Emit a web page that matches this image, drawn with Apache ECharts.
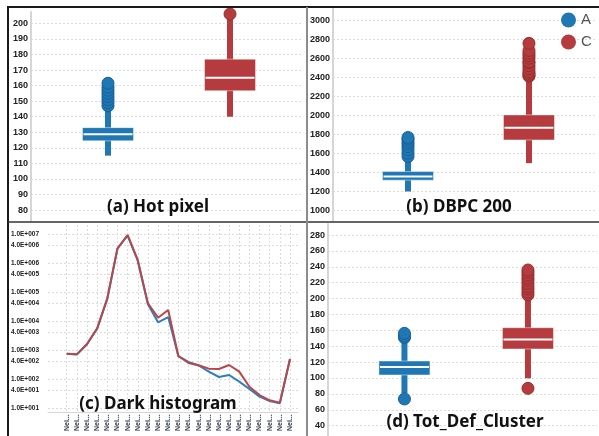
<!DOCTYPE html>
<html>
<head>
<meta charset="utf-8">
<script src="https://cdn.jsdelivr.net/npm/echarts@6/dist/echarts.min.js"></script>
<style>
  html, body { margin: 0; padding: 0; background: #fff; }
  #main { width: 599px; height: 436px; }
</style>
</head>
<body>
<div id="main"></div>
<script>
const groups = ["A", "C"];
const groupColors = ["#1f77b4", "#b53b3e"];
const groupBorders = ["#17609a", "#962f31"];

// box stats: [low whisker, q1, median, q3, high whisker]
const hotA = [115, 124.5, 128.8, 133, 145];
const hotC = [140, 156.7, 165, 177, 205];
const hotOutA = [147, 149, 151, 153, 155, 157, 159, 161.5];
const hotOutC = [206];
const hotTicks = [80, 90, 100, 110, 120, 130, 140, 150, 160, 170, 180, 190, 200];

const dbpcA = [1200, 1319, 1357, 1409, 1550];
const dbpcC = [1497, 1741, 1870, 2004, 2400];
const dbpcOutA = [1567, 1602, 1640, 1671, 1700, 1724, 1750, 1766];
const dbpcOutC = [2410, 2423, 2440, 2458, 2490, 2520, 2550, 2563, 2598, 2625, 2650, 2680, 2755];
const dbpcTicks = [1000, 1200, 1400, 1600, 1800, 2000, 2200, 2400, 2600, 2800, 3000];

const defA = [80.7, 103.8, 114, 121.4, 147];
const defC = [99.6, 136.5, 148.6, 163.3, 200];
const defOutA = [73.6, 150.8, 153, 156.2];
const defOutC = [87, 204.5, 208, 212, 215, 219, 223, 226, 229.6, 233, 236];
const defTicks = [40, 60, 80, 100, 120, 140, 160, 180, 200, 220, 240, 260, 280];

const histBins = ["Nei...", "Nei...", "Nei...", "Nei...", "Nei...", "Nei...", "Nei...", "Nei...",
  "Nei...", "Nei...", "Nei...", "Nei...", "Nei...", "Nei...", "Nei...", "Nei...", "Nei...",
  "Nei...", "Nei...", "Nei...", "Nei...", "Nei...", "Nei..."];
const histA = [745, 700, 1580, 5400, 58000, 3.1e6, 9.0e6, 1.2e6, 38000, 9000, 13700, 615,
  386, 292, 179, 117, 137, 81, 45, 24.6, 17.4, 14.5, 490];
const histC = [748, 708, 1610, 5580, 60500, 3.2e6, 9.2e6, 1.27e6, 40700, 13000, 23900, 621,
  356, 296, 227, 221, 304, 179, 54, 28, 18.4, 15.3, 490];
const histTicks = [10, 40, 100, 400, 1e3, 4e3, 1e4, 4e4, 1e5, 4e5, 1e6, 4e6, 1e7];

const chart = echarts.init(document.getElementById("main"));

const gridLine = { show: true, lineStyle: { color: "#dcdcdc", type: [2, 2], width: 1 } };
const tickFont = { fontSize: 9, fontWeight: "bold", color: "#222", fontFamily: "Liberation Sans" };

function sci(v) {
  const e = Math.floor(Math.log10(v) + 1e-9);
  const m = v / Math.pow(10, e);
  return m.toFixed(1) + "E+" + String(e).padStart(3, "0");
}

function renderBox(params, api) {
  const x = api.value(0);
  const lo = api.coord([x, api.value(1)]);
  const q1 = api.coord([x, api.value(2)]);
  const md = api.coord([x, api.value(3)]);
  const q3 = api.coord([x, api.value(4)]);
  const hi = api.coord([x, api.value(5)]);
  const color = api.visual("color");
  const bw = 51, ww = 6;
  return {
    type: "group",
    children: [
      { type: "rect", shape: { x: lo[0] - ww / 2, y: hi[1], width: ww, height: lo[1] - hi[1] }, style: { fill: color } },
      { type: "rect", shape: { x: q3[0] - bw / 2, y: q3[1], width: bw, height: q1[1] - q3[1] },
        style: { fill: color, stroke: "rgba(255,255,255,0.45)", lineWidth: 1 } },
      { type: "line", shape: { x1: md[0] - bw / 2 + 1, y1: md[1], x2: md[0] + bw / 2 - 1, y2: md[1] },
        style: { stroke: "#fff", lineWidth: 2 } },
    ],
  };
}

function boxSeries(axisIdx, stats, outliers) {
  const out = [];
  stats.forEach((s, i) => {
    out.push({
      name: groups[i],
      type: "custom",
      xAxisIndex: axisIdx,
      yAxisIndex: axisIdx,
      renderItem: renderBox,
      itemStyle: { color: groupColors[i] },
      encode: { x: 0, y: [1, 2, 3, 4, 5] },
      data: [[i + 1].concat(s)],
      z: 2,
    });
  });
  outliers.forEach((o, i) => {
    out.push({
      name: groups[i],
      type: "scatter",
      xAxisIndex: axisIdx,
      yAxisIndex: axisIdx,
      symbolSize: 12,
      itemStyle: { color: groupColors[i], borderColor: groupBorders[i], borderWidth: 1, opacity: 1 },
      data: o.map((v) => [i + 1, v]),
      z: 3,
    });
  });
  return out;
}

function valueY(grid, min, max, ticks) {
  return {
    type: "value", gridIndex: grid, min: min, max: max,
    axisLine: { show: true, lineStyle: { color: "#d6d6d6", width: 2 } },
    axisTick: { show: false, customValues: ticks },
    axisLabel: Object.assign({ customValues: ticks, margin: 3, formatter: (v) => String(v) }, tickFont),
    splitLine: gridLine,
  };
}

function hiddenX(grid, min, max) {
  return { type: "value", gridIndex: grid, min: min, max: max, show: false, splitLine: { show: false } };
}

function titleText(text, x, y) {
  return {
    type: "text", x: x, y: y, z: 10,
    style: { text: text, align: "center", verticalAlign: "middle",
      font: "bold 17px 'Noto Sans'", fill: "#111" },
  };
}

function rule(x1, y1, x2, y2, color, w) {
  return { type: "line", z: 20, shape: { x1, y1, x2, y2 }, style: { stroke: color, lineWidth: w } };
}

const option = {
  animation: false,
  backgroundColor: "#fff",
  legend: {
    data: groups,
    orient: "vertical",
    left: 561,
    top: 12.5,
    padding: 0,
    icon: "circle",
    itemWidth: 15,
    itemHeight: 15,
    itemGap: 7,
    textStyle: { fontSize: 15, color: "#555", fontFamily: "Liberation Sans" },
  },
  grid: [
    { left: 31, top: 12, right: 296, bottom: 215 },
    { left: 333, top: 8.6, right: 3, bottom: 215 },
    { left: 66.7, top: 225, right: 309, bottom: 23.7 },
    { left: 48, top: 225, right: 301, bottom: 23.7 },
    { left: 328, top: 223.9, right: 2, bottom: 0 },
  ],
  xAxis: [
    hiddenX(0, 0.369, 2.598),
    hiddenX(1, 0.38, 2.554),
    {
      type: "category", gridIndex: 2, data: histBins, boundaryGap: false,
      axisLine: { show: false },
      axisTick: { show: false },
      axisLabel: { interval: 0, rotate: 90, fontSize: 7, fontWeight: "bold", color: "#2a3344",
        fontFamily: "Liberation Sans", margin: 2 },
      splitLine: gridLine,
    },
    {
      type: "value", gridIndex: 3, min: 0, max: 1,
      axisLine: { show: true, lineStyle: { color: "#d6d6d6", width: 1 } },
      axisTick: { show: false }, axisLabel: { show: false }, splitLine: { show: false },
    },
    hiddenX(4, 0.381, 2.559),
  ],
  yAxis: [
    valueY(0, 73, 207.3, hotTicks),
    valueY(1, 890, 3120, dbpcTicks),
    {
      type: "log", gridIndex: 2, min: 7.1, max: 2.04e7,
      axisLine: { show: false },
      axisTick: { show: false, customValues: histTicks },
      axisLabel: { customValues: histTicks, formatter: sci, margin: 27.7, fontSize: 6.5,
        fontWeight: "bold", color: "#222", fontFamily: "Liberation Sans" },
      splitLine: { show: false },
    },
    {
      type: "log", gridIndex: 3, min: 7.1, max: 2.04e7,
      axisLine: { show: false },
      axisTick: { show: false, customValues: histTicks },
      axisLabel: { show: false },
      splitLine: gridLine,
    },
    valueY(4, 27, 294, defTicks),
  ],
  series: [].concat(
    boxSeries(0, [hotA, hotC], [hotOutA, hotOutC]),
    boxSeries(1, [dbpcA, dbpcC], [dbpcOutA, dbpcOutC]),
    [
      {
        name: "hist A", type: "line", xAxisIndex: 2, yAxisIndex: 2, data: histA,
        symbol: "none", lineStyle: { color: "#2f7fbf", width: 2 }, itemStyle: { color: "#2f7fbf" },
      },
      {
        name: "hist C", type: "line", xAxisIndex: 2, yAxisIndex: 2, data: histC,
        symbol: "none", lineStyle: { color: "#b8474b", width: 2 }, itemStyle: { color: "#b8474b" },
      },
    ],
    boxSeries(4, [defA, defC], [defOutA, defOutC])
  ),
  graphic: [
    titleText("(a) Hot pixel", 158, 207),
    titleText("(b) DBPC 200", 459, 207),
    titleText("(c) Dark histogram", 158, 404),
    titleText("(d) Tot_Def_Cluster", 465, 422),
    rule(8, 7, 599, 7, "#1a1a1a", 2),
    rule(8, 6, 8, 436, "#1a1a1a", 2),
    rule(8, 222, 599, 222, "#333", 1.5),
    rule(307, 7, 307, 436, "#8c8c8c", 2),
  ],
};

chart.setOption(option);
</script>
</body>
</html>
